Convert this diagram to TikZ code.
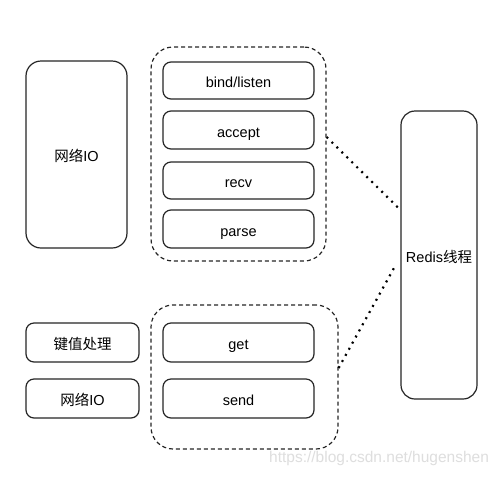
\documentclass[tikz,border=0pt]{standalone}
\usepackage{fontspec}
\setmainfont{Liberation Sans}
\newfontfamily\cjk{Noto Sans CJK SC}
\begin{document}
\begin{tikzpicture}[x=1pt,y=-1pt,
  box/.style={draw=black!85, line width=1.2pt, rounded corners=8pt, inner sep=0pt, text height=14pt, text depth=0pt, font=\fontsize{14.5}{16}\selectfont},
  bigbox/.style={box, rounded corners=15pt},
  group/.style={draw=black!85, line width=1.2pt, dash pattern=on 4pt off 3pt, rounded corners=22pt, inner sep=0pt},
  dots/.style={draw=black, line width=2.2pt, dash pattern=on 2pt off 5pt}
]
\useasboundingbox (0,0) rectangle (502,477);
\fill[white] (0,0) rectangle (502,477);
% groups
\node[group, minimum width=175pt, minimum height=214pt] (g1) at (238.5,154) {};
\node[group, minimum width=187pt, minimum height=144pt] (g2) at (244.5,377) {};
% left
\node[bigbox, minimum width=101pt, minimum height=187pt] (net1) at (76.5,154.5) {{\cjk 网络}IO};
\node[box, minimum width=113pt, minimum height=39pt] (kv) at (82.5,342.5) {\cjk 键值处理};
\node[box, minimum width=113pt, minimum height=39pt] (net2) at (82.5,398.5) {{\cjk 网络}IO};
% inner boxes
\node[box, minimum width=151pt, minimum height=37pt] (bind) at (238.5,80.5) {bind/listen};
\node[box, minimum width=151pt, minimum height=38pt] (accept) at (238.5,130) {accept};
\node[box, minimum width=151pt, minimum height=37pt] (recv) at (238.5,180.5) {recv};
\node[box, minimum width=151pt, minimum height=38pt] (parse) at (238.5,229) {parse};
\node[box, minimum width=151pt, minimum height=39pt] (get) at (238.5,342.5) {get};
\node[box, minimum width=151pt, minimum height=39pt] (send) at (238.5,398.5) {send};
% redis
\node[bigbox, rounded corners=14pt, minimum width=76pt, minimum height=288pt] (redis) at (439,255) {Redis{\cjk 线程}};
% dotted connectors
\coordinate (a1) at (g1.east |- 0,137);
\coordinate (b1) at (redis.west |- 0,210);
\coordinate (a2) at (g2.east |- 0,368);
\coordinate (b2) at (394,268);
\draw[dots] (a1) -- (b1);
\draw[dots] (a2) -- (b2);
% watermark
\node[text=black!13, font=\fontsize{15.5}{17}\selectfont, anchor=west, inner sep=0pt] (wm) at (269,458) {https://blog.csdn.net/hugenshen};
\end{tikzpicture}
\end{document}
